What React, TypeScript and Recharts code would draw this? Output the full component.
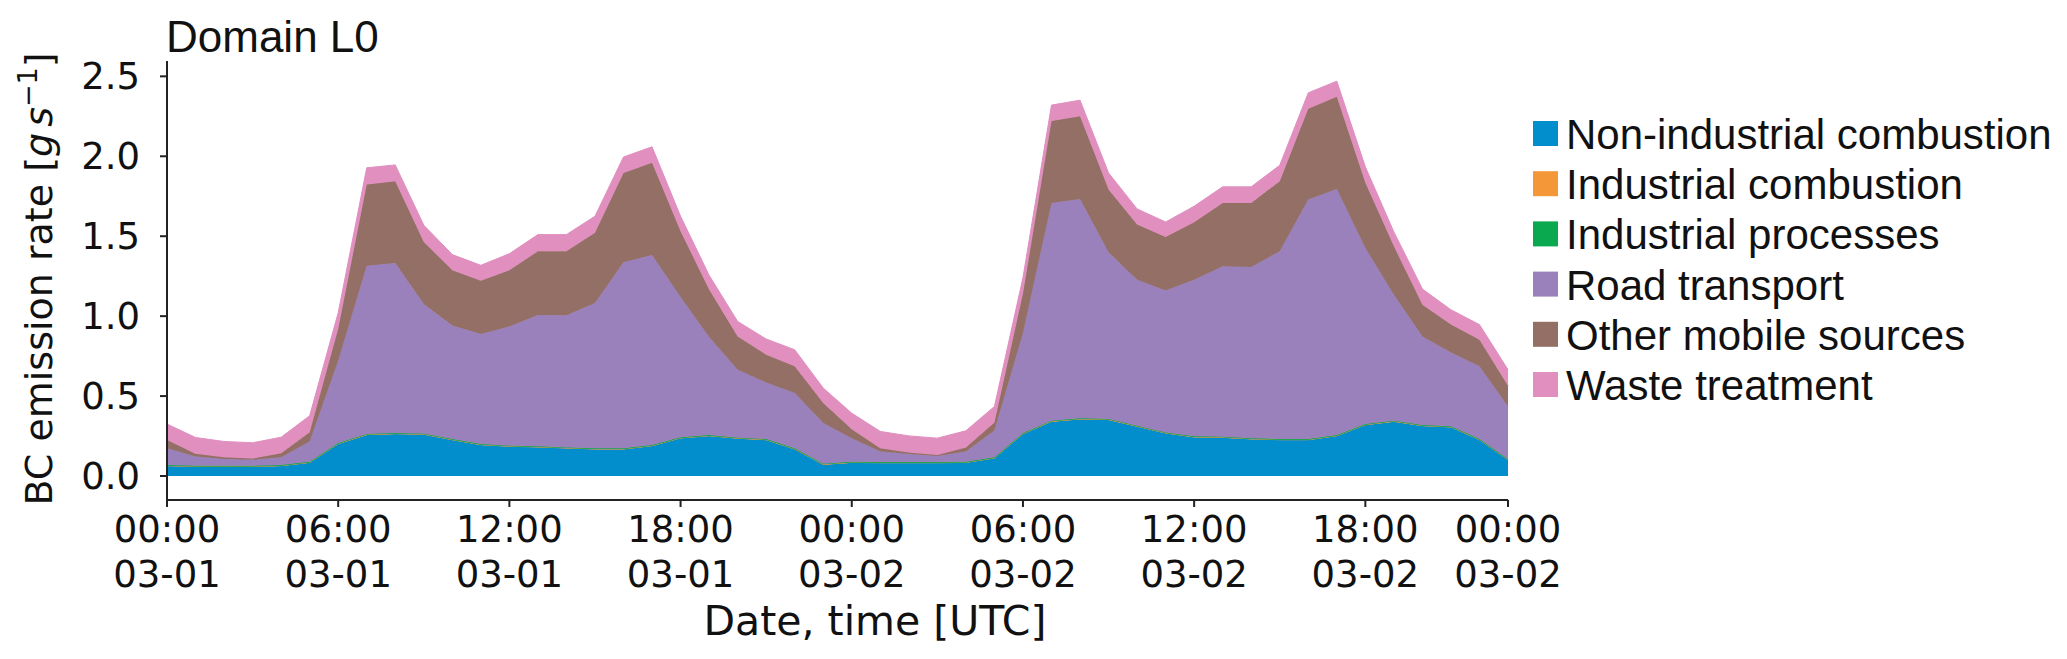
import React from 'react'
import { AreaChart, Area, XAxis, YAxis } from 'recharts'

// hourly values, 03-01 00:00 .. 03-02 23:00
const hours = [
  0, 1, 2, 3, 4, 5, 6, 7, 8, 9, 10, 11, 12, 13, 14, 15, 16, 17, 18, 19, 20, 21, 22, 23,
  24, 25, 26, 27, 28, 29, 30, 31, 32, 33, 34, 35, 36, 37, 38, 39, 40, 41, 42, 43, 44, 45, 46, 47,
]

const nonIndustrial = [
  0.063, 0.058, 0.058, 0.058, 0.063, 0.083, 0.2, 0.257, 0.263, 0.259, 0.225, 0.194,
  0.184, 0.18, 0.173, 0.167, 0.167, 0.188, 0.236, 0.25, 0.234, 0.225, 0.167, 0.071,
  0.083, 0.081, 0.081, 0.081, 0.083, 0.111, 0.263, 0.34, 0.355, 0.351, 0.309, 0.267,
  0.242, 0.24, 0.23, 0.225, 0.225, 0.25, 0.319, 0.34, 0.313, 0.305, 0.225, 0.1,
]
const industrialComb = [
  0.002, 0.002, 0.002, 0.002, 0.002, 0.002, 0.002, 0.002, 0.002, 0.002, 0.002, 0.002,
  0.002, 0.002, 0.002, 0.002, 0.002, 0.002, 0.002, 0.002, 0.002, 0.002, 0.002, 0.002,
  0.002, 0.002, 0.002, 0.002, 0.002, 0.002, 0.002, 0.002, 0.002, 0.002, 0.002, 0.002,
  0.002, 0.002, 0.002, 0.002, 0.002, 0.002, 0.002, 0.002, 0.002, 0.002, 0.002, 0.002,
]
const industrialProc = [
  0.004, 0.004, 0.004, 0.004, 0.004, 0.004, 0.004, 0.004, 0.004, 0.004, 0.004, 0.004,
  0.004, 0.004, 0.004, 0.004, 0.004, 0.004, 0.004, 0.004, 0.004, 0.004, 0.004, 0.004,
  0.004, 0.004, 0.004, 0.004, 0.004, 0.004, 0.004, 0.004, 0.004, 0.004, 0.004, 0.004,
  0.004, 0.004, 0.004, 0.004, 0.004, 0.004, 0.004, 0.004, 0.004, 0.004, 0.004, 0.004,
]
const road = [
  0.105, 0.058, 0.043, 0.037, 0.049, 0.127, 0.515, 1.053, 1.064, 0.811, 0.711, 0.688,
  0.746, 0.821, 0.826, 0.909, 1.164, 1.189, 0.878, 0.613, 0.425, 0.354, 0.346, 0.254,
  0.148, 0.066, 0.05, 0.039, 0.064, 0.168, 0.625, 1.362, 1.372, 1.042, 0.913, 0.888,
  0.98, 1.066, 1.072, 1.175, 1.498, 1.54, 1.102, 0.788, 0.554, 0.462, 0.455, 0.329,
]
const otherMobile = [
  0.052, 0.017, 0.011, 0.008, 0.025, 0.058, 0.2, 0.507, 0.511, 0.388, 0.345, 0.334,
  0.351, 0.399, 0.401, 0.439, 0.559, 0.576, 0.411, 0.297, 0.208, 0.174, 0.167, 0.125,
  0.056, 0.021, 0.01, 0.006, 0.025, 0.05, 0.247, 0.512, 0.518, 0.393, 0.345, 0.334,
  0.359, 0.396, 0.4, 0.438, 0.568, 0.576, 0.407, 0.303, 0.199, 0.174, 0.167, 0.13,
]
const waste = [
  0.099, 0.102, 0.098, 0.099, 0.1, 0.103, 0.1, 0.105, 0.102, 0.105, 0.098, 0.096,
  0.104, 0.104, 0.104, 0.104, 0.1, 0.1, 0.094, 0.09, 0.094, 0.098, 0.104, 0.094,
  0.1, 0.105, 0.104, 0.105, 0.105, 0.1, 0.1, 0.1, 0.1, 0.104, 0.098, 0.094,
  0.101, 0.101, 0.101, 0.1, 0.1, 0.098, 0.1, 0.09, 0.098, 0.093, 0.094, 0.1,
]

const xTicks = [0, 6, 12, 18, 24, 30, 36, 42, 47]
const xTimeLabels = ['00:00', '06:00', '12:00', '18:00', '00:00', '06:00', '12:00', '18:00', '00:00']
const xDateLabels = ['03-01', '03-01', '03-01', '03-01', '03-02', '03-02', '03-02', '03-02', '03-02']
const yTicks = [0, 0.5, 1, 1.5, 2, 2.5]

const series = [
  { key: 'nonInd', name: 'Non-industrial combustion', color: '#028ecc', values: nonIndustrial },
  { key: 'indComb', name: 'Industrial combustion', color: '#f39739', values: industrialComb },
  { key: 'indProc', name: 'Industrial processes', color: '#0aa84f', values: industrialProc },
  { key: 'road', name: 'Road transport', color: '#9a81bb', values: road },
  { key: 'other', name: 'Other mobile sources', color: '#946f65', values: otherMobile },
  { key: 'waste', name: 'Waste treatment', color: '#e08fbf', values: waste },
]

const data = hours.map((h, i) => {
  const row: Record<string, number> = { h }
  series.forEach((s) => {
    row[s.key] = s.values[i]
  })
  return row
})

const tickFont = 'DejaVu Sans'
const labelFont = 'Liberation Sans'

function DateTick(props: any) {
  const { x, y, payload } = props
  const i = xTicks.indexOf(payload.value)
  return (
    <text x={x} y={y} textAnchor="middle" fontFamily={tickFont} fontSize={37} fill="#111">
      <tspan x={x} dy={35}>{xTimeLabels[i]}</tspan>
      <tspan x={x} dy={45}>{xDateLabels[i]}</tspan>
    </text>
  )
}

export default function App() {
  return (
    <div style={{ position: 'absolute', left: 0, top: 0, width: 2067, height: 659, background: '#fff' }}>
      <AreaChart
        width={2067}
        height={659}
        data={data}
        margin={{ top: 61, right: 559, bottom: 0, left: 0 }}
      >
        {series.map((s) => (
          <Area
            key={s.key}
            type="linear"
            dataKey={s.key}
            name={s.name}
            stackId="1"
            fill={s.color}
            fillOpacity={1}
            stroke={s.color}
            strokeWidth={1}
            isAnimationActive={false}
          />
        ))}
        <XAxis
          dataKey="h"
          type="number"
          domain={[0, 47]}
          ticks={xTicks}
          interval={0}
          height={159}
          tickSize={7}
          tickMargin={0}
          tick={<DateTick />}
          axisLine={{ stroke: '#222', strokeWidth: 2 }}
          tickLine={{ stroke: '#222', strokeWidth: 2 }}
        />
        <XAxis xAxisId="top" orientation="top" dataKey="h" type="number" domain={[0, 47]} height={0} tick={false} tickLine={false} axisLine={{ stroke: '#222', strokeWidth: 2 }} />
        <YAxis
          type="number"
          domain={[-0.15, 2.596]}
          allowDataOverflow
          ticks={yTicks}
          width={167}
          tickSize={7}
          tickMargin={20}
          tickFormatter={(v: number) => v.toFixed(1)}
          tick={{ fontFamily: tickFont, fontSize: 37, fill: '#111' }}
          axisLine={{ stroke: '#222', strokeWidth: 2 }}
          tickLine={{ stroke: '#222', strokeWidth: 2 }}
        />
        <YAxis yAxisId="right" orientation="right" domain={[-0.15, 2.596]} width={0} tick={false} tickLine={false} axisLine={{ stroke: '#222', strokeWidth: 2 }} />
      </AreaChart>
      <svg width={2067} height={659} style={{ position: 'absolute', left: 0, top: 0, pointerEvents: 'none' }}>
        <text x={166} y={52} fontFamily={labelFont} fontSize={44} fill="#111">Domain L0</text>
        <text x={875} y={635} textAnchor="middle" fontFamily={tickFont} fontSize={41} fill="#111">
          Date, time [UTC]
        </text>
        <text
          x={52}
          y={279}
          transform="rotate(-90, 52, 279)"
          textAnchor="middle"
          fontFamily={tickFont}
          fontSize={38}
          fill="#111"
        >
          BC emission rate [<tspan fontStyle="italic">g</tspan>
          <tspan fontStyle="italic" dx={6}>s</tspan>
          <tspan dy={-15} fontSize={27}>−1</tspan>
          <tspan dy={15}>]</tspan>
        </text>
        {series.map((s, i) => (
          <g key={s.key}>
            <rect x={1533} y={121 + i * 50.2} width={25} height={25} fill={s.color} />
            <text x={1566} y={149 + i * 50.2} fontFamily={labelFont} fontSize={42} fill="#111">
              {s.name}
            </text>
          </g>
        ))}
      </svg>
    </div>
  )
}
